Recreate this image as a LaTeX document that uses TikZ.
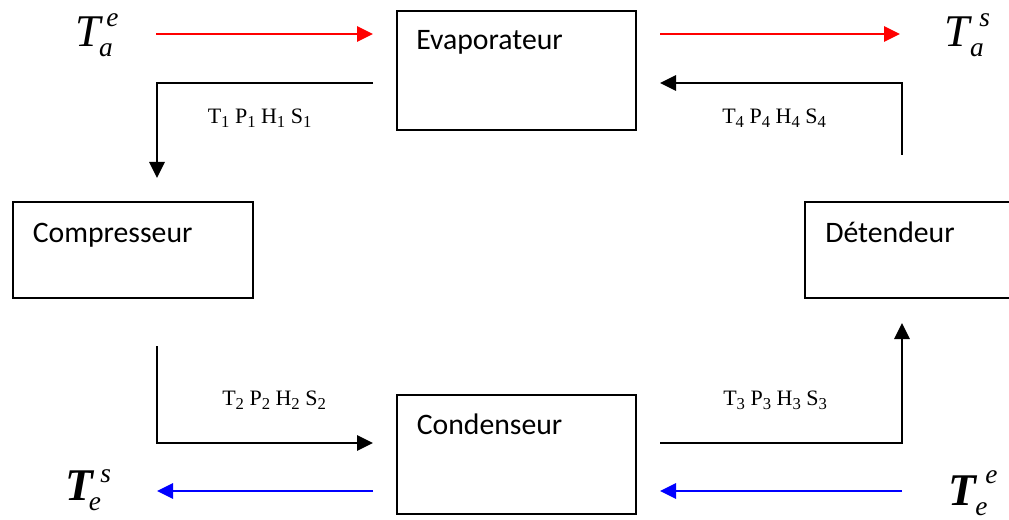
\documentclass[tikz,border=0pt]{standalone}
\usepackage{fontspec}
\setmainfont{Liberation Serif}
\newfontfamily\boxfont{Carlito}
\usetikzlibrary{calc,arrows.meta}

% T with a superscript and a subscript set as in an equation editor
% #1 font switch of the T, #2 superscript, #3 subscript, #4 subscript kern,
% #5 superscript kern, #6 subscript drop, #7 superscript rise
\newcommand{\quantT}[7]{%
  {#1\fontsize{34}{34}\selectfont T}%
  \kern#4\rlap{\raisebox{-#6}{\itshape\fontsize{20.5}{20}\selectfont #3}}%
  \kern\dimexpr#5-#4\relax
  \raisebox{#7}{\itshape\fontsize{20.5}{20}\selectfont #2}}

% state of the refrigerant: T_i P_i H_i S_i
\newcommand{\sbx}[2]{#1\raisebox{-3pt}{\fontsize{12.5}{12}\selectfont #2}}
\newcommand{\pstate}[1]{\sbx{T}{#1} \sbx{P}{#1} \sbx{H}{#1} \sbx{S}{#1}}

\begin{document}
\begin{tikzpicture}[x=0.75pt, y=-0.75pt,
  unit/.style={draw, line width=1pt, anchor=north west, inner sep=0pt, outer sep=0pt},
  uname/.style={anchor=base west, inner sep=0pt, font=\boxfont\fontsize{22.3}{26}\selectfont},
  slabel/.style={anchor=base west, inner sep=0pt, font=\fontsize{16.5}{20}\selectfont},
  qty/.style={anchor=base west, inner sep=0pt},
  flow/.style={line width=1.4pt, -{Triangle[length=12pt,width=11.5pt]}},
  hot/.style={flow, red},
  cold/.style={flow, blue}]
\clip (0,0) rectangle (1009,520);

% the four units of the cycle
\node[unit, minimum width=179.25pt, minimum height=89.25pt] (evap) at (397,11) {};
\node[unit, minimum width=180pt, minimum height=72pt] (comp) at (13,202) {};
\node[unit, minimum width=180pt, minimum height=72pt] (det) at (805,202) {};
\node[unit, minimum width=179.25pt, minimum height=89.25pt] (cond) at (397,395) {};

\node[uname] (evapt) at ($(evap.north west)+(19,39)$) {Evaporateur};
\node[uname] (compt) at ($(comp.north west)+(19.5,41)$) {Compresseur};
\node[uname] (dett) at ($(det.north west)+(20,41)$) {Détendeur};
\node[uname] (condt) at ($(cond.north west)+(19.5,39)$) {Condenseur};

% refrigerant circuit
\draw[flow] ($(evap.south west)+(-24,-47)$) -| ($(comp.north west)+(144,-24)$);
\draw[flow] ($(comp.south west)+(144,48)$) |- ($(cond.north west)+(-24,48)$);
\draw[flow] ($(cond.north east)+(24,48)$) -| ($(det.south west)+(97,25)$);
\draw[flow] ($(det.north west)+(97,-47)$) |- ($(evap.south east)+(24,-47)$);

\node[slabel] (s1) at (207.5,124) {\pstate{1}};
\node[slabel] (s4) at (722,124) {\pstate{4}};
\node[slabel] (s2) at (222,405) {\pstate{2}};
\node[slabel] (s3) at (723,405) {\pstate{3}};

% air through the evaporator, water through the condenser
\draw[hot] ($(evap.north west)+(-241,23)$) -- ($(evap.north west)+(-24,23)$);
\draw[hot] ($(evap.north east)+(24,23)$) -- ($(evap.north east)+(264,23)$);
\draw[cold] ($(cond.south west)+(-24,-23)$) -- ($(cond.south west)+(-240,-23)$);
\draw[cold] ($(cond.south east)+(266,-23)$) -- ($(cond.south east)+(24,-23)$);

\node[qty] (tae) at (75,47) {\quantT{\itshape}{e}{a}{-1pt}{4.5pt}{7.5pt}{15pt}};
\node[qty] (tas) at (944,47) {\quantT{\itshape}{s}{a}{0.5pt}{7.5pt}{7.5pt}{15pt}};
\node[qty] (tes) at (65,500) {\quantT{\bfseries\itshape}{s}{e}{-3pt}{5.5pt}{7.5pt}{13pt}};
\node[qty] (tee) at (948,505) {\quantT{\bfseries\itshape}{e}{e}{-0.5pt}{7pt}{8pt}{16pt}};
\end{tikzpicture}
\end{document}
